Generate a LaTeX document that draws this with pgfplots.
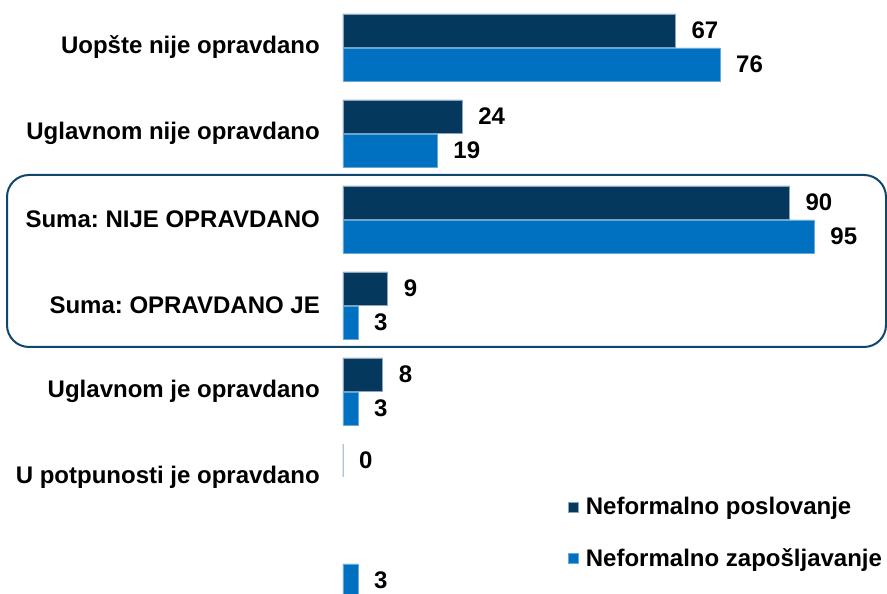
\documentclass[border=0pt]{standalone}
\usepackage{pgfplots}
\pgfplotsset{compat=1.18}
\usepackage{fontspec}
\setmainfont{Liberation Sans}
\frenchspacing
\definecolor{darkb}{RGB}{4,57,93}
\definecolor{lightb}{RGB}{0,112,192}
\definecolor{framec}{RGB}{15,70,110}
\definecolor{edgec}{RGB}{140,165,190}
\newcommand{\lbl}{\bfseries\fontsize{24}{28}\selectfont}
\begin{document}
\begin{tikzpicture}
\draw[framec, line width=2pt, rounded corners=22pt] (7pt,419pt) rectangle (886pt,247pt);
\begin{axis}[
  at={(343pt,0pt)}, anchor=south west,
  scale only axis, width=545.6pt, height=594pt,
  xbar, xmin=0, xmax=110,
  ymin=-0.5523, ymax=6.3547, y dir=reverse,
  clip=false,
  axis line style={draw=none},
  major tick length=0pt,
  xtick=\empty,
  ytick={0,1,2,3,4,5},
  yticklabels={Uopšte nije opravdano, Uglavnom nije opravdano, Suma: NIJE OPRAVDANO, Suma: OPRAVDANO JE, Uglavnom je opravdano, U potpunosti je opravdano},
  yticklabel style={font=\lbl, inner sep=0pt, xshift=-23pt},
  bar width=33pt,
  /pgf/number format/assume math mode=true,
  nodes near coords,
  nodes near coords style={font=\lbl, text=black, anchor=west, inner sep=0pt, xshift=16pt},
  legend style={draw=none, fill=none, font=\lbl, at={(axis description cs:0.4128,0.1035)}, anchor=west, row sep=32pt, inner sep=0pt, nodes={inner sep=0pt}},
  legend cell align=left,
  legend image code/.code={\fill[#1] (0pt,-5pt) rectangle (10pt,5pt);},
]
\addplot[fill=darkb, draw=edgec, line width=0.5pt, bar shift=17pt] coordinates {(67,0) (24,1) (90,2) (9,3) (8,4) (0,5)};
\addplot[fill=lightb, draw=lightb!60!white, line width=0.5pt, bar shift=-17pt] coordinates {(76,0) (19,1) (95,2) (3,3) (3,4) (3,6)};
\legend{\hspace{7pt}Neformalno poslovanje, \hspace{7pt}Neformalno zapošljavanje}
\end{axis}
\pgfresetboundingbox
\path[use as bounding box] (0pt,0pt) rectangle (887pt,594pt);
\end{tikzpicture}
\end{document}
